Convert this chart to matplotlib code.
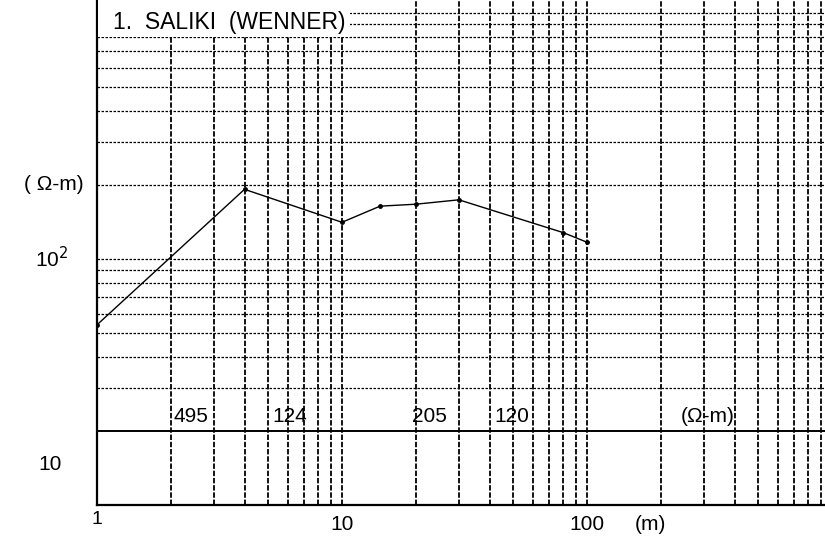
import numpy as np
import matplotlib.pyplot as plt
from matplotlib.ticker import NullLocator
from matplotlib.patches import Rectangle
import matplotlib.transforms as mtransforms

# sounding curve (spacing in m, apparent resistivity in ohm-m)
spacing = [1.0, 4.0, 10.0, 14.3, 20.0, 30.0, 80.0, 100.0]
rho_app = [54, 192, 141, 164, 167, 174, 128, 117]

# interpreted layers: label position (x) and resistivity text
layer_x = [2.05, 5.2, 19.3, 42.0]
layer_txt = ['495', '124', '205', '120']

title = '1.  SALIKI  (WENNER)'

plt.rcParams['font.family'] = ['Liberation Sans', 'DejaVu Sans']

fig = plt.figure(figsize=(8.25, 5.44), dpi=100)
ax = fig.add_axes([97 / 825, 39 / 544, 728 / 825, 505 / 544])
ax.set_xscale('log')
ax.set_yscale('log')
ax.set_xlim(1, 10 ** (728 / 245))
ax.set_ylim(10, 10 ** (1 + 505 / 246))

# grid of the log paper
vx = [m * 10 ** e for e in range(0, 3) for m in range(1, 10)][1:]
for v in vx:
    ax.axvline(v, color='black', lw=1.3, ls=(0, (3, 1)), zorder=1)
hy = [m * 10 ** e for e in range(1, 4) for m in range(1, 10)]
hy = [v for v in hy if 30 <= v <= 1000]
for v in hy:
    ax.axhline(v, color='black', lw=0.9, ls=(0, (2, 1.2)), zorder=1)

# layer bar at 20 ohm-m
ax.axhline(20, color='black', lw=1.4, zorder=2)

ax.plot(spacing, rho_app, color='black', lw=1.0, marker='o', ms=2.5, zorder=3)

ax.xaxis.set_major_locator(NullLocator())
ax.xaxis.set_minor_locator(NullLocator())
ax.yaxis.set_major_locator(NullLocator())
ax.yaxis.set_minor_locator(NullLocator())
for s in ['top', 'right']:
    ax.spines[s].set_visible(False)
ax.spines['left'].set_linewidth(1.6)
ax.spines['bottom'].set_linewidth(1.6)

narrow = ['Liberation Sans Narrow', 'Liberation Sans', 'DejaVu Sans']
for xv, t in zip(layer_x, layer_txt):
    ax.text(xv, 21.0, t, fontsize=15, family=narrow, ha='left', va='bottom', zorder=4)
ax.text(310, 21.0, '(Ω-m)', fontsize=15, ha='center', va='bottom', zorder=4)

# white label area in the top-left corner
ax.add_patch(Rectangle((0.002, 1 - 37 / 505), 252 / 728, 37 / 505, transform=ax.transAxes,
                       facecolor='white', edgecolor='none', zorder=4))
ax.text(16 / 728, 1 - 23 / 505, title, fontsize=16.5, ha='left', va='center', zorder=5,
        transform=ax.transAxes)

# axis labels placed like the scanned sheet
tx = mtransforms.blended_transform_factory(ax.transData, ax.transAxes)
ax.text(1.0, -15 / 505, '1', fontsize=14, ha='center', va='center', transform=tx, clip_on=False)
ax.text(10, -20 / 505, '10', fontsize=15, ha='center', va='center', transform=tx, clip_on=False)
ax.text(100, -20 / 505, '100', fontsize=15, ha='center', va='center', transform=tx, clip_on=False)
ax.text(10 ** (553 / 245), -20 / 505, '(m)', fontsize=15, ha='center', va='center', transform=tx, clip_on=False)

ty = mtransforms.blended_transform_factory(fig.transFigure, ax.transData)
fig.text(50 / 825, 1 - 465 / 544, '10', fontsize=15, ha='center', va='center')
ax.text(52 / 825, 100, '10$^2$', fontsize=15, ha='center', va='center', transform=ty)
ax.text(54 / 825, 200, '( Ω-m)', fontsize=15, ha='center', va='center', transform=ty)

fig.savefig('out.png', dpi=100)
